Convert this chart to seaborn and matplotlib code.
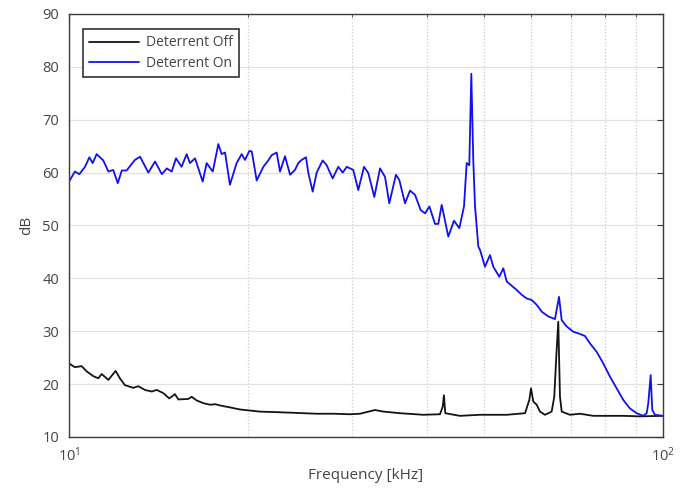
import numpy as np
import pandas as pd
import matplotlib
matplotlib.use("Agg")
import matplotlib.pyplot as plt
from matplotlib.ticker import NullFormatter
import seaborn as sns

# frequencies in kHz, levels in dB
on_freq = [10.00, 10.23, 10.41, 10.64, 10.82, 10.96, 11.13, 11.42, 11.65, 11.87,
           12.08, 12.27, 12.50, 12.91, 13.17, 13.60, 13.96, 14.33, 14.61, 14.89,
           15.14, 15.47, 15.78, 15.98, 16.30, 16.79, 17.05, 17.46, 17.84, 18.07,
           18.31, 18.66, 19.15, 19.53, 19.78, 20.12, 20.31, 20.70, 21.24, 21.65,
           21.94, 22.37, 22.66, 23.10, 23.56, 24.01, 24.32, 24.64, 25.06, 25.29,
           25.72, 26.12, 26.73, 27.15, 27.79, 28.40, 28.89, 29.35, 30.10, 30.69,
           31.38, 31.91, 32.66, 33.39, 34.04, 34.61, 35.52, 35.98, 36.79, 37.51,
           38.24, 39.10, 39.76, 40.43, 41.33, 41.85, 42.41, 43.51, 44.48, 45.41,
           46.24, 46.72, 47.20, 47.57, 47.93, 48.26, 48.88, 49.20, 50.15, 51.14,
           51.80, 53.02, 53.85, 54.57, 55.64, 56.72, 57.83, 58.96, 60.12, 61.29,
           62.49, 64.11, 65.79, 66.83, 67.53, 68.85, 70.63, 72.01, 73.90, 75.35,
           77.34, 79.35, 81.44, 83.57, 85.75, 87.97, 90.31, 92.65, 93.89, 94.47,
           95.34, 95.94, 96.94, 100.0]
on_db = [58.3, 60.2, 59.7, 61.1, 62.9, 61.8, 63.5, 62.3, 60.2, 60.5,
         58.0, 60.4, 60.4, 62.4, 63.0, 60.0, 62.1, 59.7, 60.8, 60.2,
         62.7, 61.1, 63.5, 61.8, 62.7, 58.3, 61.8, 60.2, 65.4, 63.5,
         63.8, 57.7, 61.8, 63.5, 62.4, 64.1, 64.0, 58.5, 61.1, 62.3,
         63.3, 63.8, 60.2, 63.1, 59.6, 60.5, 61.8, 62.4, 62.9, 59.9,
         56.4, 60.0, 62.3, 61.4, 58.9, 61.1, 60.0, 61.1, 60.5, 56.7,
         61.1, 59.9, 55.4, 60.8, 59.2, 54.2, 59.6, 58.6, 54.2, 56.6,
         55.8, 52.9, 52.3, 53.6, 50.3, 50.3, 53.9, 47.9, 50.9, 49.5,
         53.6, 61.8, 61.4, 78.7, 62.4, 53.6, 46.0, 45.4, 42.2, 44.4,
         42.2, 40.3, 41.9, 39.4, 38.6, 37.8, 36.9, 36.2, 35.9, 35.0,
         33.7, 32.8, 32.3, 36.5, 32.1, 30.9, 29.9, 29.6, 29.1, 27.7,
         26.1, 23.9, 21.4, 19.2, 17.0, 15.4, 14.5, 14.0, 14.5, 16.4,
         21.7, 15.1, 14.2, 14.0]

off_freq = [10.00, 10.23, 10.50, 10.71, 10.99, 11.20, 11.35, 11.65, 11.98, 12.18,
            12.42, 12.83, 13.08, 13.42, 13.78, 14.05, 14.41, 14.75, 15.08, 15.28,
            15.88, 16.09, 16.41, 16.83, 17.28, 17.62, 18.07, 18.66, 19.41, 20.17,
            20.97, 22.37, 23.56, 24.80, 26.12, 27.86, 29.72, 30.90, 32.75, 33.82,
            36.07, 39.50, 42.13, 42.57, 42.78, 43.00, 45.51, 49.20, 54.57, 58.58,
            59.56, 59.96, 60.49, 61.29, 62.08, 63.29, 64.95, 65.61, 66.22, 66.64,
            67.08, 67.53, 69.73, 72.49, 76.33, 80.40, 85.75, 91.48, 100.0]
off_db = [23.9, 23.2, 23.4, 22.4, 21.5, 21.1, 21.9, 20.8, 22.5, 21.1,
          19.8, 19.3, 19.6, 18.9, 18.6, 18.9, 18.3, 17.3, 18.1, 17.1,
          17.2, 17.6, 16.9, 16.4, 16.1, 16.2, 15.9, 15.6, 15.2, 15.0,
          14.8, 14.7, 14.6, 14.5, 14.4, 14.4, 14.3, 14.4, 15.1, 14.8,
          14.5, 14.2, 14.3, 15.7, 17.9, 14.5, 14.0, 14.2, 14.2, 14.5,
          17.0, 19.2, 16.7, 16.1, 14.8, 14.2, 14.8, 17.6, 26.5, 31.8,
          17.6, 14.8, 14.2, 14.4, 14.0, 14.0, 14.0, 13.9, 14.0]

y_ticks = [10, 20, 30, 40, 50, 60, 70, 80, 90]

sns.set_style("white")
plt.rcParams['font.family'] = ['Open Sans', 'DejaVu Sans']

fig = plt.figure(figsize=(6.82, 4.94), dpi=100)
ax = fig.add_axes([0.1012, 0.1154, 0.8709, 0.8563])

sns.lineplot(x=off_freq, y=off_db, ax=ax, color='#141414', linewidth=1.3,
             estimator=None, label='Deterrent Off')
sns.lineplot(x=on_freq, y=on_db, ax=ax, color='#1010f0', linewidth=1.3,
             estimator=None, label='Deterrent On')

ax.set_xscale('log')
ax.set_xlim(10, 100)
ax.set_ylim(10, 90)
ax.set_yticks(y_ticks)
ax.xaxis.set_minor_formatter(NullFormatter())

ax.grid(which='major', axis='y', linestyle='-', color='#e2e2e2', linewidth=0.9)
ax.grid(which='both', axis='x', linestyle=':', color='#c8c8c8', linewidth=0.9)
ax.set_axisbelow(True)

for s in ax.spines.values():
    s.set_color('#3a3a3a')
    s.set_linewidth(1.0)

ax.tick_params(which='both', direction='in', top=True, right=True,
               colors='#3a3a3a', labelcolor='#444444', labelsize=10.5)
ax.tick_params(which='major', length=4, pad=7)
ax.tick_params(which='minor', length=2.5)

ax.set_xlabel('Frequency [kHz]', fontsize=11, color='#444444', labelpad=2)
ax.set_ylabel('dB', fontsize=11, color='#444444', labelpad=6)

leg = ax.legend(loc='upper left', bbox_to_anchor=(0.0236, 0.964), fontsize=10,
                fancybox=False, framealpha=1, edgecolor='#333333',
                borderaxespad=0, handlelength=3.6, borderpad=0.45,
                labelspacing=0.4, handletextpad=0.45)
leg.get_frame().set_linewidth(1.2)
for t in leg.get_texts():
    t.set_color('#444444')

fig.savefig('out.png', dpi=100)
